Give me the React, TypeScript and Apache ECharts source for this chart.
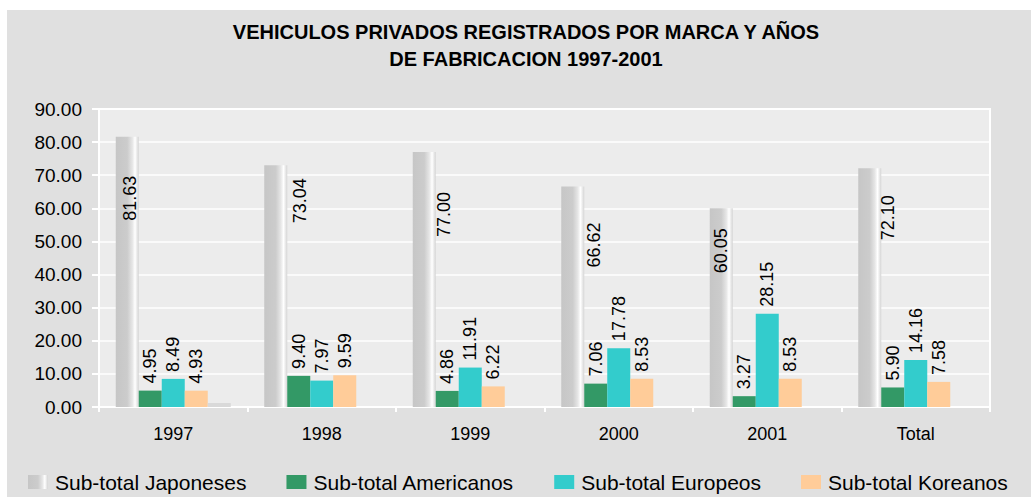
import React, { useEffect, useRef } from "react";
import * as echarts from "echarts";

const categories = ["1997", "1998", "1999", "2000", "2001", "Total"];
const japoneses = [81.63, 73.04, 77.0, 66.62, 60.05, 72.1];
const americanos = [4.95, 9.4, 4.86, 7.06, 3.27, 5.9];
const europeos = [8.49, 7.97, 11.91, 17.78, 28.15, 14.16];
const koreanos = [4.93, 9.59, 6.22, 8.53, 8.53, 7.58];
const otros = [1.2, 0, 0, 0, 0, 0];
const yTicks = { min: 0, max: 90, interval: 10 };

// label placement of the Japanese labels (relative to each bar's top-left)
const jpLabelPos: [number, number][] = [
  [14.5, 39],
  [35.5, 13],
  [31.5, 40],
  [32.5, 36],
  [11, 20],
  [29.5, 27],
];

const FONT = "'Liberation Sans', Arial, sans-serif";

export default function App() {
  const ref = useRef<HTMLDivElement>(null);
  useEffect(() => {
    if (!ref.current) return;
    const chart = echarts.init(ref.current, undefined, { renderer: "svg" });
    const jpGradient = new echarts.graphic.LinearGradient(0, 0, 1, 0, [
      { offset: 0, color: "#c6c6c6" },
      { offset: 0.5, color: "#cccccc" },
      { offset: 0.72, color: "#e6e6e6" },
      { offset: 0.84, color: "#ffffff" },
      { offset: 1, color: "#d4d4d4" },
    ]);
    const topLabel = {
      show: true,
      position: "top" as const,
      distance: 7,
      rotate: 90,
      align: "left",
      verticalAlign: "middle",
      fontSize: 18,
      fontFamily: FONT,
      color: "#000",
      formatter: (p: any) => Number(p.value).toFixed(2),
    };
    chart.setOption({
      animation: false,
      backgroundColor: "#e0e0e0",
      textStyle: { fontFamily: FONT },
      title: {
        text: "VEHICULOS PRIVADOS REGISTRADOS POR MARCA Y AÑOS\nDE FABRICACION 1997-2001",
        left: 519,
        top: 8,
        textAlign: "center",
        padding: 0,
        textStyle: {
          fontSize: 20,
          fontWeight: "bold",
          fontFamily: FONT,
          color: "#000",
          lineHeight: 27,
        },
      },
      legend: {
        data: [
          "Sub-total Japoneses",
          "Sub-total Americanos",
          "Sub-total Europeos",
          "Sub-total Koreanos",
        ],
        left: 21,
        top: 460,
        itemWidth: 20,
        itemHeight: 14,
        itemGap: 40,
        icon: "rect",
        padding: 0,
        textStyle: {
          fontSize: 21,
          fontFamily: FONT,
          color: "#000",
          lineHeight: 24,
          padding: [0, 0, 0, 2],
        },
      },
      grid: {
        left: 92,
        right: 41,
        top: 99,
        bottom: 90,
        show: true,
        backgroundColor: "#ececec",
        borderColor: "#ffffff",
        borderWidth: 2,
      },
      xAxis: {
        type: "category",
        data: categories,
        axisLine: { lineStyle: { color: "#ffffff", width: 2 } },
        axisTick: { show: true, length: 5, lineStyle: { color: "#ffffff", width: 2 } },
        axisLabel: { fontSize: 18, color: "#000", margin: 18, fontFamily: FONT },
      },
      yAxis: {
        type: "value",
        min: yTicks.min,
        max: yTicks.max,
        interval: yTicks.interval,
        axisLine: { show: true, lineStyle: { color: "#ffffff", width: 2 } },
        axisTick: { show: true, length: 7, lineStyle: { color: "#ffffff", width: 2 } },
        splitLine: { lineStyle: { color: "#ffffff", width: 1.5 } },
        axisLabel: {
          fontSize: 19,
          color: "#000",
          margin: 17,
          fontFamily: FONT,
          formatter: (v: number) => v.toFixed(2),
        },
      },
      series: [
        {
          name: "Sub-total Japoneses",
          type: "bar",
          barWidth: 23,
          barGap: "0%",
          itemStyle: { color: jpGradient },
          data: japoneses.map((v, i) => ({
            value: v,
            label: {
              show: true,
              position: jpLabelPos[i],
              rotate: 90,
              align: "right",
              verticalAlign: "middle",
              fontSize: 18,
              fontFamily: FONT,
              color: "#000",
              formatter: (p: any) => Number(p.value).toFixed(2),
            },
          })),
        },
        {
          name: "Sub-total Americanos",
          type: "bar",
          barWidth: 23,
          barGap: "0%",
          itemStyle: { color: "#339966" },
          label: topLabel,
          data: americanos,
        },
        {
          name: "Sub-total Europeos",
          type: "bar",
          barWidth: 23,
          barGap: "0%",
          itemStyle: { color: "#33cccc" },
          label: topLabel,
          data: europeos,
        },
        {
          name: "Sub-total Koreanos",
          type: "bar",
          barWidth: 23,
          barGap: "0%",
          itemStyle: { color: "#ffcc99" },
          label: topLabel,
          data: koreanos,
        },
        {
          name: "Otros",
          type: "bar",
          barWidth: 23,
          barGap: "0%",
          itemStyle: { color: "#d9d9d9" },
          data: otros,
        },
      ],
    });
    return () => chart.dispose();
  }, []);
  return (
    <div
      ref={ref}
      style={{ position: "absolute", left: 7, top: 10, width: 1024, height: 487 }}
    />
  );
}
